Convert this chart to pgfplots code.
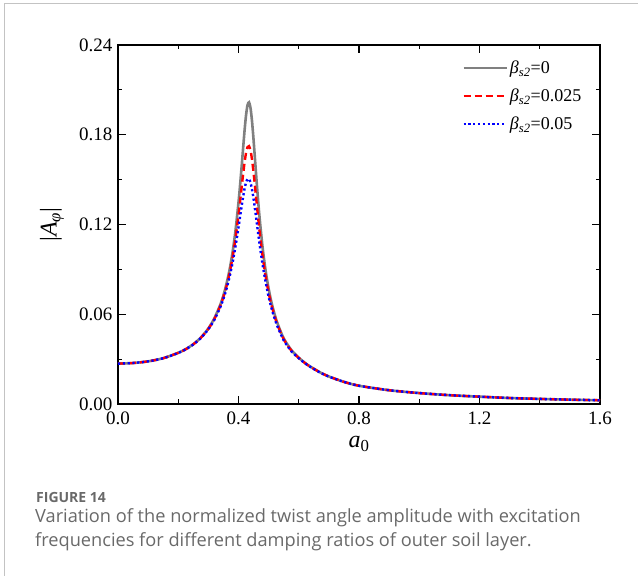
\documentclass[border=0pt]{standalone}
\usepackage{pgfplots}
\pgfplotsset{compat=1.18}
\usepackage{fontspec}
\setmainfont{Liberation Serif}
\newfontfamily\capfont{Open Sans}
\definecolor{cgray}{RGB}{128,128,128}
\definecolor{captxt}{RGB}{105,105,105}
\definecolor{framec}{RGB}{195,195,195}

\pgfplotstableread{
a v
0.00 0.0270
0.05 0.0274
0.10 0.0285
0.15 0.0306
0.20 0.0342
0.225 0.0367
0.25 0.0400
0.275 0.0444
0.30 0.0505
0.32 0.0573
0.34 0.0666
0.35 0.0727
0.36 0.0802
0.37 0.0894
0.38 0.1010
0.39 0.1159
0.40 0.1347
0.405 0.1457
0.41 0.1577
0.415 0.1702
0.42 0.1825
0.425 0.1930
0.43 0.1999
0.435 0.2017
0.44 0.1978
0.445 0.1888
0.45 0.1766
0.455 0.1629
0.46 0.1492
0.465 0.1363
0.47 0.1245
0.48 0.1046
0.49 0.0892
0.50 0.0771
0.51 0.0675
0.52 0.0599
0.53 0.0536
0.55 0.0439
0.575 0.0362
0.60 0.0310
0.625 0.0268
0.65 0.0236
0.675 0.0207
0.70 0.0184
0.75 0.0148
0.80 0.0122
0.90 0.0092
1.00 0.0073
1.10 0.0059
1.20 0.0049
1.30 0.0040
1.40 0.0034
1.50 0.0029
1.60 0.0025
}\gray

\pgfplotstableread{
a v
0.00 0.0270
0.05 0.0274
0.10 0.0285
0.15 0.0306
0.20 0.0342
0.225 0.0366
0.25 0.0399
0.275 0.0443
0.30 0.0503
0.32 0.0568
0.34 0.0658
0.35 0.0716
0.36 0.0786
0.37 0.0872
0.38 0.0976
0.39 0.1106
0.40 0.1262
0.405 0.1349
0.41 0.1439
0.415 0.1529
0.42 0.1612
0.425 0.1678
0.43 0.1718
0.435 0.1724
0.44 0.1694
0.445 0.1632
0.45 0.1547
0.455 0.1449
0.46 0.1348
0.465 0.1248
0.47 0.1153
0.48 0.0988
0.49 0.0854
0.50 0.0745
0.51 0.0657
0.52 0.0586
0.53 0.0526
0.55 0.0433
0.575 0.0358
0.60 0.0308
0.625 0.0267
0.65 0.0235
0.675 0.0207
0.70 0.0184
0.75 0.0148
0.80 0.0122
0.90 0.0092
1.00 0.0073
1.10 0.0059
1.20 0.0049
1.30 0.0040
1.40 0.0034
1.50 0.0029
1.60 0.0025
}\red

\pgfplotstableread{
a v
0.00 0.0270
0.05 0.0274
0.10 0.0285
0.15 0.0306
0.20 0.0341
0.225 0.0366
0.25 0.0398
0.275 0.0441
0.30 0.0500
0.32 0.0563
0.34 0.0649
0.35 0.0704
0.36 0.0769
0.37 0.0847
0.38 0.0941
0.39 0.1053
0.40 0.1180
0.405 0.1249
0.41 0.1316
0.415 0.1381
0.42 0.1438
0.425 0.1480
0.43 0.1504
0.435 0.1503
0.44 0.1479
0.445 0.1433
0.45 0.1372
0.455 0.1299
0.46 0.1223
0.465 0.1144
0.47 0.1068
0.48 0.0931
0.49 0.0815
0.50 0.0717
0.51 0.0637
0.52 0.0571
0.53 0.0515
0.55 0.0426
0.575 0.0354
0.60 0.0306
0.625 0.0266
0.65 0.0234
0.675 0.0206
0.70 0.0183
0.75 0.0148
0.80 0.0122
0.90 0.0092
1.00 0.0073
1.10 0.0059
1.20 0.0049
1.30 0.0040
1.40 0.0034
1.50 0.0029
1.60 0.0025
}\blue

\begin{document}
\begin{tikzpicture}
\useasboundingbox (0pt,0pt) rectangle (638pt,576pt);
\draw[color=framec, line width=1pt] (4pt,0pt) -- (4pt,572pt) -- (638pt,572pt);
\begin{axis}[
  at={(118pt,172pt)}, anchor=south west,
  scale only axis, width=482pt, height=359pt,
  xmin=0, xmax=1.6, ymin=0, ymax=0.24,
  xtick={0,0.4,0.8,1.2,1.6},
  ytick={0,0.06,0.12,0.18,0.24},
  minor x tick num=1, minor y tick num=1,
  tick align=inside,
  major tick length=8pt, minor tick length=4.5pt,
  every tick/.style={black, line width=1.1pt},
  axis line style={black, line width=1.2pt},
  tick label style={font=\fontsize{19}{21}\selectfont},
  /pgf/number format/assume math mode=true,
  xticklabel style={/pgf/number format/.cd, fixed, fixed zerofill, precision=1},
  yticklabel style={/pgf/number format/.cd, fixed, fixed zerofill, precision=2},
  scaled y ticks=false, scaled x ticks=false,
  xticklabel shift=4pt, yticklabel shift=2pt,
  xlabel={\textit{a}\textsubscript{0}},
  ylabel={|\textit{A}\textsubscript{\textit{φ}}|},
  every axis x label/.style={at={(axis description cs:0.5,-0.122)}, anchor=base, font=\fontsize{24}{26}\selectfont},
  every axis y label/.style={at={(axis description cs:-0.137,0.5)}, rotate=90, anchor=center, font=\fontsize{24}{26}\selectfont},
  legend image code/.code={\draw[#1] (0pt,0pt) -- (43pt,0pt);},
  legend cell align=left,
  legend style={at={(0.714,0.962)}, anchor=north west, draw=none, fill=none,
    font=\fontsize{18}{20}\selectfont, inner sep=0pt, row sep=10pt,
    nodes={inner sep=2pt}},
]
\addplot[cgray, line width=2.6pt, smooth, tension=0.45] table[x=a,y=v] {\gray};
\addlegendentry{\textit{β}\textsubscript{\textit{s2}}=0}
\addplot[red, line width=2.4pt, dash pattern=on 7pt off 4pt, smooth, tension=0.45] table[x=a,y=v] {\red};
\addlegendentry{\textit{β}\textsubscript{\textit{s2}}=0.025}
\addplot[blue, line width=2.4pt, dash pattern=on 2.2pt off 2.6pt, smooth, tension=0.45] table[x=a,y=v] {\blue};
\addlegendentry{\textit{β}\textsubscript{\textit{s2}}=0.05}
\end{axis}
\node[anchor=base west, inner sep=0pt, text=captxt, font=\capfont\bfseries\fontsize{14}{16}\selectfont] at (36pt,73pt) {FIGURE 14};
\node[anchor=base west, inner sep=0pt, text=captxt, font=\capfont\fontsize{18.2}{20}\selectfont] at (35pt,53pt) {Variation of the normalized twist angle amplitude with excitation};
\node[anchor=base west, inner sep=0pt, text=captxt, font=\capfont\fontsize{18.2}{20}\selectfont] at (35pt,29pt) {frequencies for different damping ratios of outer soil layer.};
\end{tikzpicture}
\end{document}
